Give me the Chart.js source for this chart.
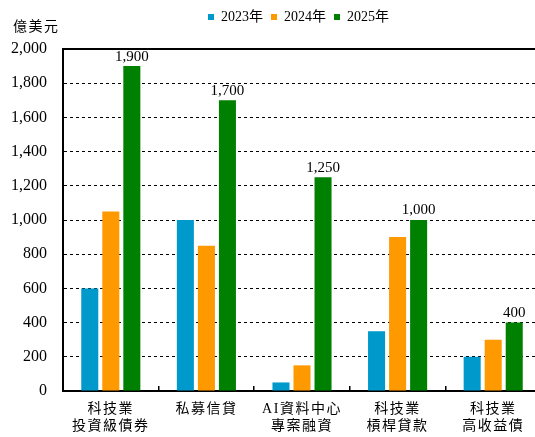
<!DOCTYPE html>
<html>
<head>
<meta charset="utf-8">
<script src="https://cdn.jsdelivr.net/npm/chart.js@4.4.1/dist/chart.umd.min.js"></script>
<style>
  html, body { margin: 0; padding: 0; background: #fff; }
  #wrap { width: 535px; height: 437px; }
</style>
</head>
<body>
<div id="wrap"><canvas id="js-bar-chart" width="535" height="437"></canvas></div>
<script>
const categories = [
  ["科技業", "投資級債券"],
  ["私募信貸"],
  ["AI資料中心", "專案融資"],
  ["科技業", "槓桿貸款"],
  ["科技業", "高收益債"],
];
const seriesNames = ["2023年", "2024年", "2025年"];
const values2023 = [600, 1000, 50, 350, 200];
const values2024 = [1050, 850, 150, 900, 300];
const values2025 = [1900, 1700, 1250, 1000, 400];
const yTicks = [0, 200, 400, 600, 800, 1000, 1200, 1400, 1600, 1800, 2000];
const unitLabel = "億美元";

const serif = "'Liberation Serif', 'Noto Sans CJK TC', serif";

// labels on top of the 2025 bars + unit text + top border
const extras = {
  id: "extras",
  afterLayout(chart) {
    // legend sits higher than the layout padding would put it
    chart.legend.top -= 15;
    chart.legend.bottom -= 15;
    chart.legend.left += 31;
    chart.legend.right += 31;

    // plot area runs a bit past the right edge of the picture
    const x = chart.scales.x;
    x.right += 6;
    x.width += 6;
    x.configure();
    chart.chartArea.right += 6;
    chart.chartArea.width += 6;

    // spaced out category labels
    const origDrawLabels = x.drawLabels;
    x.drawLabels = function (area) {
      this.ctx.save();
      this.ctx.letterSpacing = "1.5px";
      origDrawLabels.call(this, area);
      this.ctx.restore();
    };
  },
  afterDatasetsDraw(chart) {
    const ctx = chart.ctx;
    const meta = chart.getDatasetMeta(2);
    ctx.save();
    ctx.font = "15px " + serif;
    ctx.fillStyle = "#000";
    ctx.textAlign = "center";
    ctx.textBaseline = "bottom";
    meta.data.forEach((bar, i) => {
      ctx.fillText(values2025[i].toLocaleString("en-US"), bar.x, bar.y - 2);
    });
    ctx.restore();
  },
  afterDraw(chart) {
    const ctx = chart.ctx;
    const area = chart.chartArea;
    ctx.save();
    ctx.strokeStyle = "#000";
    ctx.lineWidth = 2;
    ctx.beginPath();
    ctx.moveTo(area.left, area.top);
    ctx.lineTo(area.right, area.top);
    ctx.stroke();

    ctx.font = "14px " + serif;
    ctx.letterSpacing = "1.5px";
    ctx.fillStyle = "#000";
    ctx.textAlign = "left";
    ctx.textBaseline = "middle";
    ctx.fillText(unitLabel, 13, 27);
    ctx.restore();
  },
};

const barChart = new Chart(document.getElementById("js-bar-chart"), {
  type: "bar",
  data: {
    labels: categories,
    datasets: [
      {
        label: seriesNames[0],
        data: values2023,
        backgroundColor: "rgb(0, 153, 204)",
      },
      {
        label: seriesNames[1],
        data: values2024,
        backgroundColor: "rgb(255, 153, 0)",
      },
      {
        label: seriesNames[2],
        data: values2025,
        backgroundColor: "rgb(0, 128, 0)",
      },
    ],
  },
  options: {
    responsive: false,
    animation: false,
    devicePixelRatio: 1,
    categoryPercentage: 0.66,
    barPercentage: 0.81,
    layout: {
      padding: { top: 17, left: 0, right: 0, bottom: 0 },
    },
    plugins: {
      legend: {
        display: true,
        position: "top",
        labels: {
          boxWidth: 6,
          boxHeight: 6,
          padding: 8,
          color: "#000",
          font: { family: serif, size: 14 },
        },
      },
      tooltip: { enabled: false },
    },
    scales: {
      x: {
        grid: {
          offset: true,
          drawOnChartArea: false,
          drawTicks: true,
          tickLength: -5,
          color: "#000",
          lineWidth: 1.5,
        },
        border: { color: "#000", width: 2 },
        ticks: {
          color: "#000",
          padding: 15,
          maxRotation: 0,
          font: { family: serif, size: 14 },
        },
        afterFit(scale) {
          scale.height = 46;
        },
      },
      y: {
        min: 0,
        max: 2000,
        afterBuildTicks(scale) {
          scale.ticks = yTicks.map((v) => ({ value: v }));
        },
        grid: {
          drawTicks: false,
          color: "#000",
          lineWidth: 1,
        },
        border: { color: "#000", width: 2, dash: [3, 3] },
        ticks: {
          color: "#000",
          padding: 16,
          font: { family: serif, size: 16 },
        },
        afterFit(scale) {
          scale.width = 63;
        },
      },
    },
  },
  plugins: [extras],
});
</script>
</body>
</html>
